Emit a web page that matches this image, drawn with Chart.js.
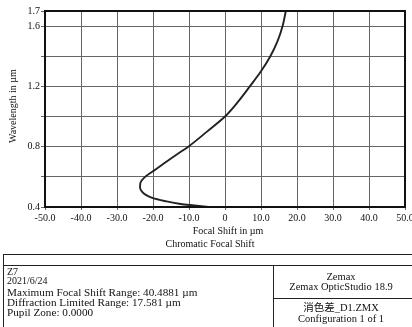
<!DOCTYPE html>
<html>
<head>
<meta charset="utf-8">
<script src="https://cdn.jsdelivr.net/npm/chart.js@4.4.1/dist/chart.umd.min.js"></script>
<style>
  html, body { margin: 0; padding: 0; background: #fff; }
  #wrap { position: relative; width: 412px; height: 327px; overflow: hidden; background: #fff; }
  #c { position: absolute; left: 0; top: 0; }
  .t { position: absolute; font-family: "Liberation Serif", "DejaVu Serif", serif; color: #111; white-space: nowrap; line-height: 12px; }
  .c { transform: translateX(-50%); }
  .ln { position: absolute; background: #222; }
</style>
</head>
<body>
<div id="wrap">
  <canvas id="c" width="412" height="327"></canvas>
  <div class="t" style="left:0;top:0;font-size:10px;transform-origin:0 0;transform:translate(7px,143px) rotate(-90deg);">Wavelength in µm</div>
  <div class="t c" style="left:228px;top:225px;font-size:10px;">Focal Shift in µm</div>
  <div class="t c" style="left:210px;top:238px;font-size:10px;">Chromatic Focal Shift</div>

  <div class="ln" style="left:3px;top:254px;width:409px;height:1px;"></div>
  <div class="ln" style="left:3px;top:265px;width:409px;height:1px;"></div>
  <div class="ln" style="left:3px;top:254px;width:1px;height:73px;"></div>
  <div class="ln" style="left:273px;top:265px;width:1px;height:62px;"></div>
  <div class="ln" style="left:273px;top:298px;width:139px;height:1px;"></div>

  <div class="t" style="left:7px;top:266px;font-size:10px;">Z7</div>
  <div class="t" style="left:7px;top:275px;font-size:10px;">2021/6/24</div>
  <div class="t" style="left:7px;top:286px;font-size:11.2px;">Maximum Focal Shift Range: 40.4881 µm</div>
  <div class="t" style="left:7px;top:296px;font-size:11.2px;">Diffraction Limited Range: 17.581 µm</div>
  <div class="t" style="left:7px;top:306px;font-size:11.2px;">Pupil Zone: 0.0000</div>

  <div class="t c" style="left:341px;top:271px;font-size:10.5px;">Zemax</div>
  <div class="t c" style="left:341px;top:281px;font-size:10.5px;">Zemax OpticStudio 18.9</div>
  <div class="t c" style="left:341px;top:302px;font-size:10.5px;font-family:'Liberation Serif','Noto Sans CJK SC',serif;">消色差_D1.ZMX</div>
  <div class="t c" style="left:341px;top:313px;font-size:10.5px;">Configuration 1 of 1</div>
</div>
<script>
// Data
const wavelengths = [0.40,0.41,0.42,0.44,0.46,0.48,0.50,0.53,0.56,0.60,0.65,0.70,0.75,0.80,0.90,1.00,1.10,1.20,1.30,1.40,1.50,1.60,1.70];
const focalShift  = [-4.6,-8.5,-12.3,-16.8,-20.2,-22.0,-23.0,-23.6,-23.5,-22.2,-19.2,-16.3,-13.3,-10.2,-5.0,0.0,3.7,6.9,10.0,12.6,14.6,16.0,16.9];
const yTicks = [0.4,0.6,0.8,1.0,1.2,1.4,1.6,1.7];
const yLabels = ['0.4','','0.8','','1.2','','1.6','1.7'];
const xTicks = [-50,-40,-30,-20,-10,0,10,20,30,40,50];
const xLabels = ['-50.0','-40.0','-30.0','-20.0','-10.0','0','10.0','20.0','30.0','40.0','50.0'];

const points = wavelengths.map((w, i) => ({ x: focalShift[i], y: w }));
const FONT = { family: '"Liberation Serif", "DejaVu Serif", serif', size: 10 };

const frame = {
  id: 'frame',
  afterDraw(chart) {
    const a = chart.chartArea, ctx = chart.ctx;
    ctx.save();
    ctx.strokeStyle = '#111';
    ctx.lineWidth = 2;
    ctx.strokeRect(a.left, a.top, a.right - a.left, a.bottom - a.top);
    ctx.restore();
  }
};

new Chart(document.getElementById('c'), {
  type: 'scatter',
  data: {
    datasets: [{
      data: points,
      showLine: true,
      borderColor: '#222',
      borderWidth: 1.9,
      pointRadius: 0,
      cubicInterpolationMode: 'monotone',
      fill: false
    }]
  },
  options: {
    indexAxis: 'y',
    responsive: false,
    animation: false,
    devicePixelRatio: 1,
    layout: { padding: { left: 0, top: 11, right: 7, bottom: 0 } },
    plugins: { legend: { display: false }, tooltip: { enabled: false } },
    scales: {
      x: {
        type: 'linear', min: -50, max: 50,
        afterBuildTicks(s) { s.ticks = xTicks.map(v => ({ value: v })); },
        afterFit(s) { s.height = 120; s.paddingLeft = 0; s.paddingRight = 0; },
        ticks: {
          color: '#111', font: FONT, padding: 2, maxRotation: 0, autoSkip: false,
          callback: (v, i) => xLabels[i]
        },
        grid: { color: '#666', lineWidth: 1, tickLength: 3, drawTicks: true },
        border: { display: false }
      },
      y: {
        type: 'linear', min: 0.4, max: 1.7,
        afterBuildTicks(s) { s.ticks = yTicks.map(v => ({ value: v })); },
        afterFit(s) { s.width = 45; s.paddingTop = 0; s.paddingBottom = 0; },
        ticks: {
          color: '#111', font: FONT, padding: 1, autoSkip: false,
          callback: (v, i) => yLabels[i]
        },
        grid: { color: '#666', lineWidth: 1, tickLength: 4, drawTicks: true },
        border: { display: false }
      }
    }
  },
  plugins: [frame]
});
</script>
</body>
</html>
